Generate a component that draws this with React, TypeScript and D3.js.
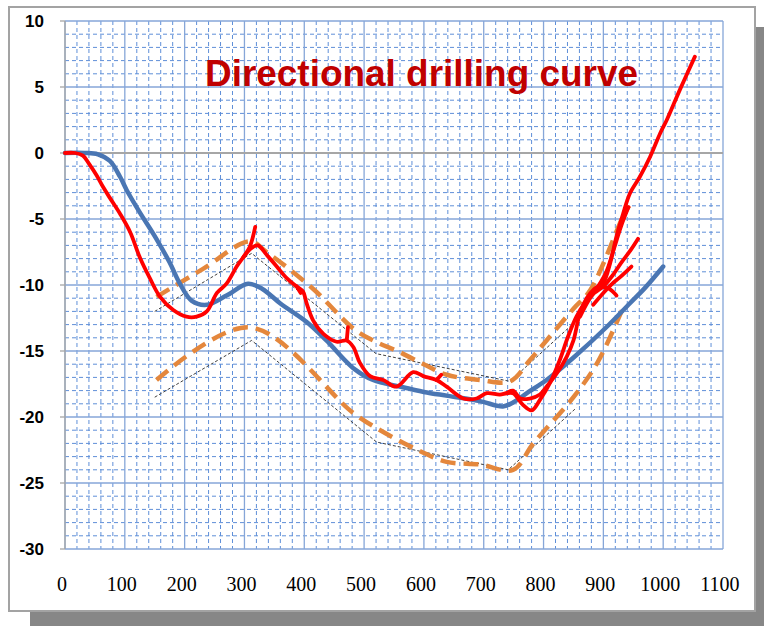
import React from "react";
import * as d3 from "d3";

const xTicks = [0, 100, 200, 300, 400, 500, 600, 700, 800, 900, 1000, 1100];
const yTicks = [10, 5, 0, -5, -10, -15, -20, -25, -30];
const titleText = "Directional drilling curve";

const blueX = [0, 33, 55, 75, 92, 103, 125, 150, 175, 192, 212, 237, 270, 306, 330, 360, 404, 437, 482, 515, 560, 600, 640, 694, 732, 749, 775, 805, 855, 905, 944, 970, 1000];
const blueY = [0, 0, -0.1, -0.6, -1.8, -2.8, -4.5, -6.3, -8.3, -9.9, -11.2, -11.5, -10.8, -9.9, -10.3, -11.4, -12.8, -14.2, -16.3, -17.2, -17.7, -18.1, -18.4, -18.8, -19.2, -18.9, -18.1, -17.2, -15.3, -13.2, -11.4, -10.2, -8.6];

const red1X = [0, 17, 30, 40, 53, 64, 75, 92, 109, 125, 142, 159, 181, 203, 220, 237, 254, 270, 287, 298, 309, 318];
const red1Y = [0, 0, -0.2, -0.8, -1.7, -2.6, -3.4, -4.6, -6.0, -7.9, -9.5, -10.9, -11.9, -12.4, -12.4, -12.0, -10.6, -9.9, -8.6, -7.9, -7.1, -5.6];

const red2X = [298, 309, 315, 323, 337, 354, 371, 387, 398, 404, 415, 432, 454, 471, 482, 493, 510, 532, 554, 582, 599, 621, 638, 666, 688, 705, 727, 738, 749, 766, 780, 794, 811, 827, 841, 855, 870, 885, 900, 915, 930, 945, 958];
const red2Y = [-7.9, -7.3, -7.1, -7.0, -7.7, -8.6, -9.5, -10.1, -10.5, -11.4, -12.7, -13.7, -14.3, -14.2, -14.7, -15.9, -16.9, -17.2, -17.7, -16.6, -16.9, -17.2, -17.7, -18.6, -18.6, -18.2, -18.3, -18.2, -18.2, -19.1, -19.5, -18.7, -17.4, -15.7, -13.9, -12.4, -11.3, -10.6, -10.1, -9.3, -8.3, -7.4, -6.5];

const red3X = [738, 749, 761, 777, 794, 805, 822, 839, 850, 861, 872, 885, 900, 911, 922, 933, 944, 961, 978, 995, 1006, 1028, 1053];
const red3Y = [-18.2, -18.0, -18.6, -18.6, -18.3, -17.7, -16.7, -15.4, -14.2, -12.1, -11.0, -10.3, -9.8, -8.4, -6.3, -4.6, -3.1, -1.8, -0.3, 1.5, 2.5, 4.8, 7.3];

const red4X = [861, 875, 890, 905, 918, 930, 942];
const red4Y = [-12.4, -11.2, -10.2, -9.0, -7.2, -5.5, -4.1];

const red5X = [883, 900, 915, 928, 947];
const red5Y = [-11.5, -10.6, -9.9, -9.4, -8.6];

const red6X = [897, 910, 922];
const red6Y = [-10.1, -10.3, -10.8];

const spur1X = [471, 473];
const spur1Y = [-14.2, -13.2];
const spur2X = [621, 629];
const spur2Y = [-17.2, -16.8];
const spur3X = [387, 394];
const spur3Y = [-10.1, -10.6];

const orangeUpX = [153, 230, 309, 337, 415, 482, 515, 560, 604, 638, 694, 744, 777, 805, 850, 878, 933, 943];
const orangeUpY = [-10.9, -8.8, -6.7, -7.5, -10.3, -13.3, -14.2, -15.1, -16.1, -16.8, -17.2, -17.3, -15.7, -14.2, -11.8, -10.4, -4.8, -4.0];

const orangeLowX = [153, 309, 482, 527, 594, 638, 694, 749, 783, 850, 891, 935];
const orangeLowY = [-17.2, -13.2, -19.7, -21, -22.6, -23.4, -23.6, -24, -22.0, -18.5, -15.8, -11.5];

const dotUpX = [150, 312, 520, 744, 855];
const dotUpY = [-12, -7.6, -15.2, -17.3, -12.7];

const dotLowX = [150, 312, 521, 741, 855];
const dotLowY = [-18.5, -14.2, -21.9, -24, -19.3];

export default function App() {
  const x = d3.scaleLinear().domain([0, 1100]).range([65, 723]);
  const y = d3.scaleLinear().domain([-30, 10]).range([549, 21]);

  const zip = (xs: number[], ys: number[]) => xs.map((v, i) => [v, ys[i]] as [number, number]);
  const smooth = d3.line<[number, number]>().x(d => x(d[0])).y(d => y(d[1])).curve(d3.curveCatmullRom.alpha(0.5));
  const straight = d3.line<[number, number]>().x(d => x(d[0])).y(d => y(d[1]));

  const minorX = d3.range(0, 1101, 20).filter(v => v % 100 !== 0);
  const minorY = d3.range(-30, 11, 1).filter(v => v % 5 !== 0);

  const reds = [
    [red1X, red1Y], [red2X, red2Y], [red3X, red3Y], [red4X, red4Y], [red5X, red5Y], [red6X, red6Y],
    [spur1X, spur1Y], [spur2X, spur2Y], [spur3X, spur3Y],
  ];

  return (
    <svg width={764} height={626} style={{ position: "absolute", left: 0, top: 0 }}>
      <rect x={0} y={0} width={764} height={626} fill="#ffffff" />
      <rect x={30} y={27} width={734} height={599} fill="#878787" />
      <rect x={9} y={7} width={746} height={604} fill="#ffffff" stroke="#a3a3a3" strokeWidth={2} />

      <g>
        {minorX.map(v => (
          <line key={"mx" + v} x1={x(v)} x2={x(v)} y1={y(10)} y2={y(-30)} stroke="#5f8fd8" strokeWidth={1} strokeDasharray="4 3" />
        ))}
        {minorY.map(v => (
          <line key={"my" + v} x1={x(0)} x2={x(1100)} y1={y(v)} y2={y(v)} stroke="#5f8fd8" strokeWidth={1} strokeDasharray="4 3" />
        ))}
        {xTicks.map(v => (
          <line key={"Mx" + v} x1={x(v)} x2={x(v)} y1={y(10)} y2={y(-30)} stroke="#86a6d8" strokeWidth={1.3} />
        ))}
        {yTicks.map(v => (
          <line key={"My" + v} x1={x(0)} x2={x(1100)} y1={y(v)} y2={y(v)} stroke="#86a6d8" strokeWidth={1.3} />
        ))}
        <line x1={x(0)} x2={x(1100)} y1={y(0)} y2={y(0)} stroke="#a6a6a6" strokeWidth={1.8} />
        <line x1={x(0)} x2={x(0)} y1={y(10)} y2={y(-30)} stroke="#a6a6a6" strokeWidth={1.3} />
        {yTicks.map(v => (
          <line key={"t" + v} x1={x(0) - 5} x2={x(0)} y1={y(v)} y2={y(v)} stroke="#a6a6a6" strokeWidth={1.3} />
        ))}
      </g>

      <text x={205} y={86} fill="#c00000" fontFamily="'Liberation Sans', Arial, sans-serif" fontWeight="bold" fontSize={37} textLength={433} lengthAdjust="spacingAndGlyphs">
        {titleText}
      </text>

      <path d={straight(zip(dotUpX, dotUpY)) || ""} fill="none" stroke="#404040" strokeWidth={1} strokeDasharray="3 2" />
      <path d={straight(zip(dotLowX, dotLowY)) || ""} fill="none" stroke="#404040" strokeWidth={1} strokeDasharray="3 2" />

      <path d={smooth(zip(orangeUpX, orangeUpY)) || ""} fill="none" stroke="#e4873c" strokeWidth={4.5} strokeDasharray="15 8" />
      <path d={smooth(zip(orangeLowX, orangeLowY)) || ""} fill="none" stroke="#e4873c" strokeWidth={4.5} strokeDasharray="15 8" />

      <path d={smooth(zip(blueX, blueY)) || ""} fill="none" stroke="#4a76b3" strokeWidth={4.5} strokeLinejoin="round" strokeLinecap="round" />

      {reds.map((r, i) => (
        <path key={"r" + i} d={smooth(zip(r[0], r[1])) || ""} fill="none" stroke="#ff0000" strokeWidth={3.8} strokeLinejoin="round" strokeLinecap="round" />
      ))}

      {yTicks.map(v => (
        <text key={"yl" + v} x={44} y={y(v)} dy="0.36em" textAnchor="end" fontFamily="'Liberation Sans', Arial, sans-serif" fontWeight="bold" fontSize={17} fill="#000">
          {v}
        </text>
      ))}
      {xTicks.map(v => (
        <text key={"xl" + v} x={x(v) - 3} y={591} textAnchor="middle" fontFamily="'Liberation Serif', 'Times New Roman', serif" fontSize={20} fill="#000">
          {v}
        </text>
      ))}
    </svg>
  );
}
